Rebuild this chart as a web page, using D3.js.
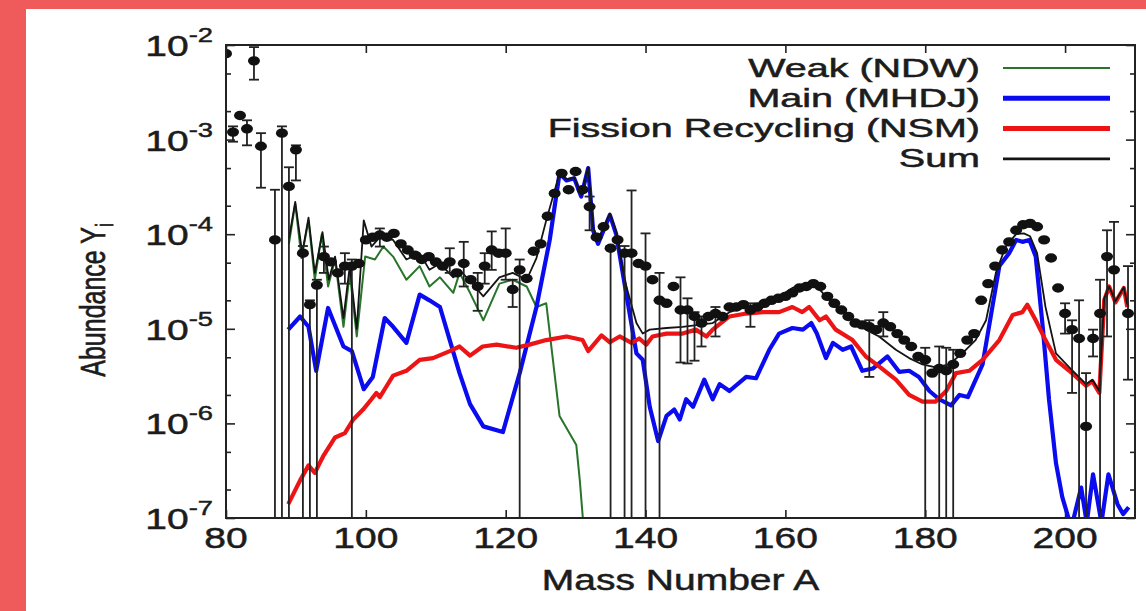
<!DOCTYPE html>
<html>
<head>
<meta charset="utf-8">
<script src="https://cdn.jsdelivr.net/npm/d3@7"></script>
<style>
  body { margin: 0; background: #fff; }
  svg { display: block; font-family: "Liberation Sans", Arial, sans-serif; }
  .heavy { stroke: #1c1c1c; stroke-width: 0.5px; }
</style>
</head>
<body>
<div id="chart"></div>
<script>
// r-process abundance pattern: three components, their sum, and solar residuals.
// Points are [mass number A, abundance Y].

const weakPts = [[89.0,7.9e-5],[89.9,2.1e-4],[90.8,5.6e-5],[91.8,1.4e-4],[92.7,3.3e-5],[93.7,1.0e-4],[94.6,2.8e-5],
  [95.6,5.4e-5],[96.8,1.05e-5],[97.7,3.9e-5],[98.7,8.3e-6],[99.9,5.8e-5],[101.3,5.4e-5],[102.5,7.4e-5],[103.9,5.8e-5],
  [105.8,3.3e-5],[107.7,4.6e-5],[109.1,2.8e-5],[110.6,3.5e-5],[112.5,2.4e-5],[113.4,3.9e-5],[114.9,2.4e-5],[116.8,1.23e-5],
  [119.1,3.0e-5],[121.0,3.3e-5],[123.0,2.8e-5],[124.4,1.7e-5],[125.8,1.86e-5],[127.7,1.2e-6],[130.1,5.9e-7],[130.6,2.5e-7],
  [131.2,7e-8]];

const mainPts = [[88.9,9.8e-6],[90.6,1.35e-5],[91.8,1.05e-5],[92.9,3.6e-6],[94.6,1.66e-5],[96.8,6.5e-6],[98.0,5.8e-6],
  [99.7,2.3e-6],[101.0,3.1e-6],[102.7,1.3e-5],[103.9,1.05e-5],[105.8,7.1e-6],[107.7,2.3e-5],[109.1,2.0e-5],[110.6,1.7e-5],
  [112.0,7.6e-6],[113.4,3.4e-6],[114.9,1.6e-6],[116.8,9.3e-7],[119.6,8.1e-7],[122.0,3.4e-6],[124.4,1.7e-5],[126.3,8.7e-5],
  [127.7,4.4e-4],[128.7,3.7e-4],[129.8,3.9e-4],[130.8,2.5e-4],[131.8,5.0e-4],[132.5,1.1e-4],[133.2,7.9e-5],[134.9,1.6e-4],
  [135.8,1.0e-4],[137.0,3.0e-5],[138.7,5.5e-6],[139.6,4.7e-6],[140.6,1.5e-6],[141.8,6.5e-7],[143.0,1.2e-6],[144.1,1.4e-6],
  [144.9,1.1e-6],[145.8,1.8e-6],[146.8,1.5e-6],[148.4,2.9e-6],[149.6,1.8e-6],[150.6,2.6e-6],[152.0,2.2e-6],[154.4,3.1e-6],
  [155.8,3.0e-6],[157.7,6.0e-6],[159.1,8.9e-6],[161.0,1.02e-5],[162.5,9.8e-6],[163.7,1.15e-5],[164.5,8.9e-6],[165.8,4.9e-6],
  [166.8,7.1e-6],[168.2,6.0e-6],[169.4,6.5e-6],[171.0,3.6e-6],[172.5,3.8e-6],[174.6,5.1e-6],[176.3,3.5e-6],[177.7,3.6e-6],
  [179.1,3.1e-6],[180.6,2.2e-6],[182.0,1.8e-6],[183.7,1.55e-6],[184.9,2.0e-6],[186.1,1.9e-6],[188.2,4.2e-6],[189.6,1.7e-5],
  [190.6,4.6e-5],[192.0,6.3e-5],[193.0,8.7e-5],[193.9,8.3e-5],[194.9,8.7e-5],[195.8,5.8e-5],[196.8,1.05e-5],[197.7,1.8e-6],
  [198.7,3.8e-7],[199.6,1.66e-7],[200.9,7.9e-8],[202.3,2.1e-7],[203.1,8.9e-8],[204.0,2.9e-7],[205.2,8.9e-8],[206.2,2.9e-7],
  [207.5,1.4e-7],[208.3,1.1e-7],[209.1,1.3e-7]];

const fissionPts = [[88.9,1.4e-7],[90.6,2.5e-7],[91.8,3.6e-7],[92.7,3.0e-7],[93.9,4.5e-7],[95.6,7.1e-7],[97.0,7.9e-7],
  [98.2,1.1e-6],[99.6,1.4e-6],[100.8,1.8e-6],[101.5,2.1e-6],[102.0,1.9e-6],[103.0,2.5e-6],[103.9,3.2e-6],[105.8,3.6e-6],
  [107.7,4.7e-6],[109.6,4.9e-6],[112.0,5.8e-6],[113.4,6.5e-6],[114.9,5.2e-6],[116.7,6.5e-6],[118.7,6.8e-6],[121.5,6.3e-6],
  [123.4,6.8e-6],[125.8,7.6e-6],[128.7,8.3e-6],[131.0,7.6e-6],[131.8,5.8e-6],[133.7,8.5e-6],[134.9,7.2e-6],[136.3,8.3e-6],
  [138.0,7.1e-6],[139.1,7.9e-6],[140.1,6.8e-6],[141.0,8.3e-6],[143.0,8.9e-6],[145.3,8.9e-6],[147.2,9.8e-6],[148.7,8.3e-6],
  [149.6,9.8e-6],[152.0,1.35e-5],[154.4,1.45e-5],[156.8,1.5e-5],[159.1,1.5e-5],[161.0,1.7e-5],[162.4,1.5e-5],[163.4,1.7e-5],
  [164.9,1.23e-5],[165.8,1.35e-5],[167.2,9.8e-6],[169.6,7.6e-6],[171.5,5.1e-6],[173.4,4.0e-6],[175.8,2.9e-6],[177.7,2.0e-6],
  [179.6,1.7e-6],[181.5,1.7e-6],[183.0,2.2e-6],[184.4,3.4e-6],[186.3,3.6e-6],[188.2,4.7e-6],[190.6,7.6e-6],[192.5,1.4e-5],
  [193.9,1.5e-5],[194.6,1.8e-5],[195.8,1.23e-5],[197.2,7.6e-6],[198.7,4.7e-6],[200.6,3.6e-6],[203.0,2.5e-6],[203.9,2.8e-6],
  [204.9,2.1e-6],[205.6,2.0e-5],[206.3,2.8e-5],[207.2,1.9e-5],[208.4,2.7e-5],[208.9,1.7e-5]];

const sumPts = [[89.0,8.9e-5],[89.9,2.2e-4],[90.9,6.3e-5],[91.8,1.5e-4],[92.7,3.9e-5],[93.8,1.05e-4],[94.7,3.3e-5],
  [95.6,5.8e-5],[96.8,1.3e-5],[97.7,4.6e-5],[98.7,1.0e-5],[99.7,1.4e-4],[100.8,7.4e-5],[102.0,9.3e-5],[103.9,8.7e-5],
  [105.8,5.4e-5],[107.7,6.3e-5],[109.1,4.2e-5],[110.6,4.9e-5],[112.5,3.5e-5],[113.4,4.2e-5],[114.9,3.2e-5],[116.8,2.2e-5],
  [119.1,3.5e-5],[121.0,3.9e-5],[123.0,3.3e-5],[124.4,5.6e-5],[125.8,1.4e-4],[127.7,4.4e-4],[128.7,3.8e-4],[129.8,4.0e-4],
  [130.8,2.6e-4],[131.8,5.1e-4],[132.5,1.2e-4],[133.2,8.7e-5],[134.9,1.66e-4],[135.8,1.07e-4],[137.0,3.3e-5],[138.7,1.15e-5],
  [139.6,8.9e-6],[140.6,9.8e-6],[143.0,1.02e-5],[145.3,1.05e-5],[149.6,1.15e-5],[152.0,1.5e-5],[154.4,1.7e-5],[156.8,1.86e-5],
  [159.1,2.2e-5],[161.0,2.7e-5],[163.4,3.0e-5],[164.9,2.6e-5],[167.2,1.7e-5],[169.6,1.23e-5],[171.5,9.8e-6],[173.4,8.3e-6],
  [175.8,6.0e-6],[177.7,4.9e-6],[179.6,4.2e-6],[181.5,3.9e-6],[183.4,4.2e-6],[185.3,5.5e-6],[187.2,7.6e-6],[188.7,1.23e-5],
  [190.1,3.9e-5],[191.5,7.4e-5],[193.0,1.0e-4],[194.1,1.02e-4],[195.0,9.5e-5],[196.0,6.3e-5],[197.2,1.7e-5],[198.7,5.5e-6],
  [200.6,3.9e-6],[203.0,2.6e-6],[203.9,2.9e-6],[204.9,2.2e-6],[205.6,2.1e-5],[206.3,2.8e-5],[207.2,1.95e-5],[208.4,2.75e-5],
  [208.9,1.8e-5]];

// Solar residuals: [A, Y, lower end of bar, upper end of bar]; null where the bar hides under the dot.
const solarPts = [[80,8.1e-3,null,null],[81,1.2e-3,9.5e-4,1.38e-3],[82,1.8e-3,null,null],[83,1.3e-3,8.7e-4,1.6e-3],
  [84,6.8e-3,4.3e-3,9.5e-3],[85,8.5e-4,3.1e-4,1.17e-3],[87,8.7e-5,1e-8,2.95e-4],[88,1.17e-3,1e-8,1.38e-3],
  [89,3.2e-4,1e-8,5.1e-4],[90,7.8e-4,3.7e-4,8.7e-4],[91,6.3e-5,1e-8,7.5e-5],[92,1.8e-5,1e-8,2.0e-5],[93,2.9e-5,1e-8,3.3e-5],
  [94,5.8e-5,3.9e-5,7.4e-5],[95,5.1e-5,null,null],[96,3.9e-5,null,null],[97,4.6e-5,3.0e-5,6.3e-5],[98,4.6e-5,1e-8,5.4e-5],
  [99,4.9e-5,null,null],[100,8.7e-5,null,null],[101,9.3e-5,null,null],[102,9.8e-5,7.4e-5,1.15e-4],[103,9.3e-5,null,null],
  [104,1.02e-4,null,null],[105,7.9e-5,null,null],[106,6.8e-5,null,null],[107,6.0e-5,null,null],[108,5.4e-5,null,null],
  [109,5.8e-5,null,null],[110,5.1e-5,null,null],[111,4.6e-5,null,null],[112,5.1e-5,3.9e-5,7.1e-5],[113,3.9e-5,null,null],
  [114,4.9e-5,2.8e-5,8.3e-5],[115,3.3e-5,null,null],[116,2.8e-5,1.55e-5,3.9e-5],[117,4.6e-5,3.0e-5,6.3e-5],
  [118,6.8e-5,4.2e-5,1.07e-4],[119,6.3e-5,null,null],[120,6.3e-5,3.3e-5,1.15e-4],[121,2.6e-5,1.7e-5,3.3e-5],
  [122,4.2e-5,1e-8,5.4e-5],[123,3.4e-5,null,null],[124,6.6e-5,null,null],[125,7.9e-5,null,null],[126,1.55e-4,null,null],
  [127,2.7e-4,null,null],[128,4.4e-4,null,null],[129,2.95e-4,null,null],[130,4.6e-4,null,null],[131,2.95e-4,null,null],
  [132,1.95e-4,1.1e-4,2.5e-4],[133,9.3e-5,null,null],[134,1.2e-4,null,null],[135,7.1e-5,1e-8,7.5e-5],[136,8.7e-5,null,null],
  [137,6.3e-5,1e-8,7.5e-5],[138,6.3e-5,1e-8,2.9e-4],[139,4.9e-5,null,null],[140,4.6e-5,1e-8,1.02e-4],[141,3.3e-5,null,null],
  [142,2.0e-5,1e-8,3.9e-5],[143,1.86e-5,null,null],[144,2.8e-5,null,null],[145,1.58e-5,4.4e-6,3.5e-5],
  [146,1.58e-5,4.3e-6,2.1e-5],[147,1.35e-5,4.6e-6,1.5e-5],[148,1.15e-5,6.5e-6,1.35e-5],[149,1.35e-5,null,null],
  [150,1.45e-5,8.3e-6,1.7e-5],[151,1.35e-5,null,null],[152,1.7e-5,null,null],[153,1.7e-5,null,null],[154,1.8e-5,null,null],
  [155,1.58e-5,1.05e-5,1.86e-5],[156,1.7e-5,null,null],[157,1.86e-5,null,null],[158,2.0e-5,null,null],[159,2.1e-5,null,null],
  [160,2.2e-5,null,null],[161,2.4e-5,null,null],[162,2.7e-5,null,null],[163,2.8e-5,null,null],[164,3.0e-5,null,null],
  [165,2.8e-5,null,null],[166,2.2e-5,null,null],[167,1.86e-5,null,null],[168,1.58e-5,null,null],[169,1.35e-5,null,null],
  [170,1.15e-5,null,null],[171,1.1e-5,null,null],[172,1.05e-5,3.1e-6,1.23e-5],[173,9.8e-6,null,null],
  [174,1.15e-5,8.3e-6,1.5e-5],[175,1.05e-5,null,null],[176,8.9e-6,null,null],[177,7.6e-6,null,null],[178,6.5e-6,null,null],
  [179,5.1e-6,null,null],[180,4.7e-6,1e-8,6.3e-6],[181,3.4e-6,null,null],[182,3.8e-6,1e-8,6.5e-6],[183,3.6e-6,1e-8,6.3e-6],
  [184,4.2e-6,1e-8,6.0e-6],[185,5.5e-6,null,null],[186,7.6e-6,null,null],[187,8.9e-6,null,null],[188,2.0e-5,null,null],
  [189,3.0e-5,null,null],[190,4.6e-5,null,null],[191,6.8e-5,null,null],[192,8.3e-5,null,null],[193,1.1e-4,null,null],
  [194,1.26e-4,null,null],[195,1.3e-4,null,null],[196,1.2e-4,null,null],[197,8.7e-5,null,null],[198,5.6e-5,null,null],
  [199,2.7e-5,null,null],[200,1.45e-5,8.9e-6,1.86e-5],[201,9.8e-6,2.1e-6,1.23e-5],[202,7.9e-6,1e-8,2.0e-5],
  [203,9.3e-7,1e-8,3.4e-6],[204,7.9e-6,5.1e-6,9.8e-6],[205,1.45e-5,1e-8,3.3e-5],[206,5.8e-5,8.3e-6,1.1e-4],
  [207,4.2e-5,1e-8,1.35e-4],[209,1.45e-5,2.9e-6,4.6e-5]];

const xTicks = [80, 100, 120, 140, 160, 180, 200];
const yMajor = [1e-7, 1e-6, 1e-5, 1e-4, 1e-3, 1e-2];
const yMinor = [2e-7, 5e-7, 2e-6, 5e-6, 2e-5, 5e-5, 2e-4, 5e-4, 2e-3, 5e-3];
const legendItems = [
  { label: "Weak (NDW)", color: "#27742a", width: 2.2 },
  { label: "Main (MHDJ)", color: "#0b0bf0", width: 5 },
  { label: "Fission Recycling (NSM)", color: "#ec1414", width: 5 },
  { label: "Sum", color: "#141414", width: 2.6 }
];

const width = 1146;
const height = 611;
const frame = { left: 226, right: 1135, top: 45, bottom: 518 };
const textColor = "#1c1c1c";

const svg = d3.select("#chart")
  .append("svg")
  .attr("width", width)
  .attr("height", height);

svg.append("rect").attr("width", width).attr("height", height).attr("fill", "#fff");
// salmon border strips on top and left
svg.append("rect").attr("x", 0).attr("y", 0).attr("width", width).attr("height", 9).attr("fill", "#ef5b5b");
svg.append("rect").attr("x", 0).attr("y", 0).attr("width", 26).attr("height", height).attr("fill", "#ef5b5b");

const x = d3.scaleLinear().domain([80, 210]).range([frame.left, frame.right]);
const y = d3.scaleLog().domain([1e-7, 1e-2]).range([frame.bottom, frame.top]);

svg.append("clipPath").attr("id", "plot-clip")
  .append("rect")
  .attr("x", frame.left).attr("y", frame.top)
  .attr("width", frame.right - frame.left).attr("height", frame.bottom - frame.top);

// inward ticks on all four sides
function tickAxis(axis, tx, ty) {
  const g = svg.append("g").attr("transform", `translate(${tx},${ty})`).call(axis);
  g.select(".domain").remove();
  g.selectAll("line").attr("stroke", "#222").attr("stroke-width", 1.6);
  g.selectAll("text").remove();
}
tickAxis(d3.axisBottom(x).tickValues(xTicks).tickSizeInner(-8).tickSizeOuter(0), 0, frame.bottom);
tickAxis(d3.axisTop(x).tickValues(xTicks).tickSizeInner(-8).tickSizeOuter(0), 0, frame.top);
tickAxis(d3.axisLeft(y).tickValues(yMajor).tickSizeInner(-9).tickSizeOuter(0), frame.left, 0);
tickAxis(d3.axisLeft(y).tickValues(yMinor).tickSizeInner(-5).tickSizeOuter(0), frame.left, 0);
tickAxis(d3.axisRight(y).tickValues(yMajor).tickSizeInner(-9).tickSizeOuter(0), frame.right, 0);
tickAxis(d3.axisRight(y).tickValues(yMinor).tickSizeInner(-5).tickSizeOuter(0), frame.right, 0);

// the original figure is stretched sideways, so the glyphs get a horizontal scale
svg.selectAll(".xlab")
  .data(xTicks)
  .join("text")
  .attr("class", "xlab heavy")
  .attr("transform", d => `translate(${x(d)},548) scale(1.3,1)`)
  .attr("text-anchor", "middle")
  .attr("font-size", 30)
  .attr("fill", textColor)
  .text(d => d);

const ylab = svg.selectAll(".ylab")
  .data(yMajor)
  .join("text")
  .attr("class", "ylab heavy")
  .attr("transform", d => `translate(213,${y(d) + 11}) scale(1.3,1)`)
  .attr("text-anchor", "end")
  .attr("font-size", 30)
  .attr("fill", textColor);
ylab.append("tspan").text("10");
ylab.append("tspan")
  .attr("dy", -14)
  .attr("font-size", 21)
  .text(d => "-" + Math.round(-Math.log10(d)));

svg.append("text")
  .attr("class", "heavy")
  .attr("transform", `translate(${(frame.left + frame.right) / 2},590) scale(1.3,1)`)
  .attr("text-anchor", "middle")
  .attr("font-size", 30)
  .attr("fill", textColor)
  .text("Mass Number A");

const yTitle = svg.append("text")
  .attr("class", "heavy")
  .attr("transform", "translate(105,300) rotate(-90) scale(1,1.4)")
  .attr("text-anchor", "middle")
  .attr("font-size", 25)
  .attr("fill", textColor);
yTitle.append("tspan").text("Abundance Y");
yTitle.append("tspan").attr("dy", 6).attr("font-size", 17).text("i");

// model curves
const line = d3.line().x(d => x(d[0])).y(d => y(d[1]));
const curves = svg.append("g").attr("clip-path", "url(#plot-clip)").attr("fill", "none")
  .attr("stroke-linejoin", "round");
[[weakPts, 0], [mainPts, 1], [fissionPts, 2], [sumPts, 3]].forEach(([pts, i]) => {
  curves.append("path")
    .attr("d", line(pts))
    .attr("stroke", legendItems[i].color)
    .attr("stroke-width", i === 0 ? 2 : (i === 3 ? 1.8 : 4.2));
});

// solar residuals with error bars
const obs = svg.append("g").attr("clip-path", "url(#plot-clip)");
const withBars = solarPts.filter(d => d[2] !== null);
obs.selectAll(".bar")
  .data(withBars)
  .join("line")
  .attr("class", "bar")
  .attr("x1", d => x(d[0])).attr("x2", d => x(d[0]))
  .attr("y1", d => y(d[2])).attr("y2", d => y(d[3]))
  .attr("stroke", "#222").attr("stroke-width", 1.8);
obs.selectAll(".cap-hi")
  .data(withBars)
  .join("line")
  .attr("class", "cap-hi")
  .attr("x1", d => x(d[0]) - 5).attr("x2", d => x(d[0]) + 5)
  .attr("y1", d => y(d[3])).attr("y2", d => y(d[3]))
  .attr("stroke", "#222").attr("stroke-width", 1.8);
obs.selectAll(".cap-lo")
  .data(withBars.filter(d => d[2] > 1e-7))
  .join("line")
  .attr("class", "cap-lo")
  .attr("x1", d => x(d[0]) - 5).attr("x2", d => x(d[0]) + 5)
  .attr("y1", d => y(d[2])).attr("y2", d => y(d[2]))
  .attr("stroke", "#222").attr("stroke-width", 1.8);
obs.selectAll(".dot")
  .data(solarPts)
  .join("ellipse")
  .attr("class", "dot")
  .attr("cx", d => x(d[0]))
  .attr("cy", d => y(d[1]))
  .attr("rx", 6)
  .attr("ry", 4.7)
  .attr("fill", "#111");

// frame
svg.append("rect")
  .attr("x", frame.left).attr("y", frame.top)
  .attr("width", frame.right - frame.left).attr("height", frame.bottom - frame.top)
  .attr("fill", "none").attr("stroke", "#222").attr("stroke-width", 2);

// legend, top right inside the frame
const legend = svg.append("g");
legendItems.forEach((item, i) => {
  const cy = 68 + i * 30.3;
  legend.append("text")
    .attr("class", "heavy")
    .attr("transform", `translate(980,${cy + 8.5}) scale(1.58,1)`)
    .attr("text-anchor", "end")
    .attr("font-size", 25)
    .attr("fill", textColor)
    .text(item.label);
  legend.append("line")
    .attr("x1", 1003).attr("x2", 1110)
    .attr("y1", cy).attr("y2", cy)
    .attr("stroke", item.color)
    .attr("stroke-width", item.width);
});
</script>
</body>
</html>
